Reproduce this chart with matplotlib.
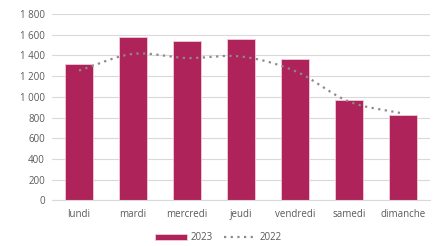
import numpy as np
import matplotlib
matplotlib.use('Agg')
import matplotlib.pyplot as plt
from matplotlib.ticker import FuncFormatter

jours = ['lundi', 'mardi', 'mercredi', 'jeudi', 'vendredi', 'samedi', 'dimanche']
val_2023 = [1320, 1575, 1535, 1560, 1365, 970, 825]
val_2022 = [1255, 1415, 1375, 1390, 1250, 955, 840]

plt.rcParams['font.family'] = ['Open Sans', 'DejaVu Sans']


def lisse(y, n=30):
    # courbe lissée façon Excel (Catmull-Rom)
    y = np.asarray(y, dtype=float)
    p = np.concatenate([[2 * y[0] - y[1]], y, [2 * y[-1] - y[-2]]])
    xs, ys = [], []
    for i in range(len(y) - 1):
        t = np.linspace(0, 1, n, endpoint=False)
        p0, p1, p2, p3 = p[i], p[i + 1], p[i + 2], p[i + 3]
        yy = 0.5 * ((2 * p1) + (-p0 + p2) * t + (2 * p0 - 5 * p1 + 4 * p2 - p3) * t ** 2
                    + (-p0 + 3 * p1 - 3 * p2 + p3) * t ** 3)
        xs.append(i + t)
        ys.append(yy)
    xs.append([len(y) - 1])
    ys.append([y[-1]])
    return np.concatenate(xs), np.concatenate(ys)


fig = plt.figure(figsize=(4.37, 2.46), dpi=100)
ax = fig.add_axes([0.119, 0.185, 0.865, 0.758])

x = np.arange(len(jours))
barres = ax.bar(x, val_2023, width=0.52, color='#AE2359', edgecolor='#F2C9D8', linewidth=0.6,
                label='2023', zorder=2)
xs, ys = lisse(val_2022)
ligne, = ax.plot(xs, ys, color='#8C8C8C', linestyle=(0, (1, 2)), linewidth=1.6, label='2022', zorder=3)

ax.set_ylim(0, 1800)
ax.set_xlim(-0.5, len(jours) - 0.5)
ax.set_yticks(range(0, 1801, 200))
ax.yaxis.set_major_formatter(FuncFormatter(lambda v, p: f'{int(v):,}'.replace(',', ' ')))
ax.set_xticks(x)
ax.set_xticklabels(jours)
ax.grid(axis='y', color='#D9D9D9', linewidth=0.8, zorder=0)
ax.set_axisbelow(True)
for s in ['top', 'right', 'left']:
    ax.spines[s].set_visible(False)
ax.spines['bottom'].set_color('#D9D9D9')
ax.tick_params(length=0, labelsize=7, colors='#595959', pad=5)
ax.tick_params(axis='x', pad=6)

fig.legend([barres, ligne], ['2023', '2022'], loc='lower center', bbox_to_anchor=(0.5, -0.025),
           ncol=2, frameon=False, fontsize=7, labelcolor='#595959', handlelength=3.2,
           handleheight=0.6, columnspacing=1.2, handletextpad=0.4)

fig.savefig('out.png', dpi=100)
